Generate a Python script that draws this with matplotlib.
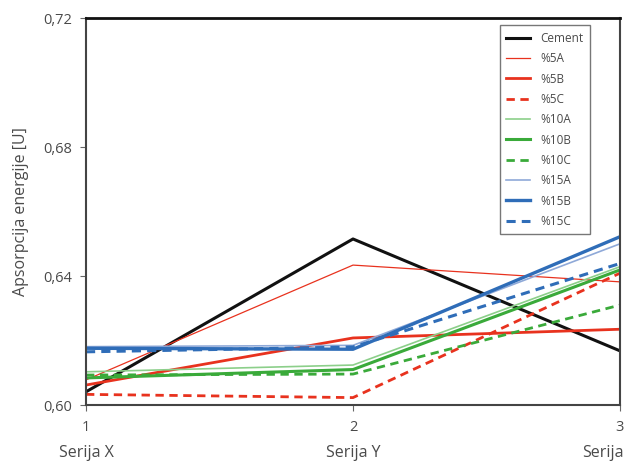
import matplotlib
matplotlib.use("Agg")
import matplotlib.pyplot as plt

plt.rcParams['font.family'] = ['Open Sans', 'DejaVu Sans']

x = [1, 2, 3]
series_names = ["Serija X", "Serija Y", "Serija"]
cement = [0.6041, 0.6515, 0.6168]
p5a = [0.6078, 0.6434, 0.6382]
p5b = [0.6062, 0.6208, 0.6235]
p5c = [0.6033, 0.6023, 0.6409]
p10a = [0.6103, 0.6124, 0.6429]
p10b = [0.6084, 0.6110, 0.6419]
p10c = [0.6093, 0.6096, 0.6310]
p15a = [0.6181, 0.6185, 0.6500]
p15b = [0.6176, 0.6173, 0.6522]
p15c = [0.6165, 0.6180, 0.6439]
labels = ["Cement", "%5A", "%5B", "%5C", "%10A", "%10B", "%10C", "%15A", "%15B", "%15C"]
yticks = [0.60, 0.64, 0.68, 0.72]
ytick_labels = ["0,60", "0,64", "0,68", "0,72"]

fig = plt.figure(figsize=(6.25, 4.65), dpi=100)
ax = fig.add_axes([0.1376, 0.129, 0.8544, 0.832])

red = "#e8321e"
green = "#3aaa3a"
lgreen = "#8ccf8a"
blue = "#2f6db8"
lblue = "#8fa9d8"

styles = [
    (cement, dict(color="#111111", lw=2.2, ls="-")),
    (p5a, dict(color=red, lw=0.9, ls="-")),
    (p5b, dict(color=red, lw=2.0, ls="-")),
    (p5c, dict(color=red, lw=2.0, ls=(0, (3, 2)))),
    (p10a, dict(color=lgreen, lw=1.2, ls="-")),
    (p10b, dict(color=green, lw=2.2, ls="-")),
    (p10c, dict(color=green, lw=2.0, ls=(0, (3, 2)))),
    (p15a, dict(color=lblue, lw=1.2, ls="-")),
    (p15b, dict(color=blue, lw=2.4, ls="-")),
    (p15c, dict(color=blue, lw=2.2, ls=(0, (3, 2)))),
]
handles = []
for (vals, st), lab in zip(styles, labels):
    h, = ax.plot(x, vals, label=lab, **st)
    handles.append(h)

ax.set_xlim(1, 3)
ax.set_ylim(0.60, 0.72)
ax.set_yticks(yticks)
ax.set_yticklabels(ytick_labels)
ax.set_xticks(x)
ax.set_xticklabels(["1", "2", "3"])
ax.tick_params(axis='both', colors="#666666", labelcolor="#4a4a4a", labelsize=10.5, length=4, width=0.8)
ax.tick_params(axis='x', pad=7)
ax.tick_params(axis='y', pad=6)
for s in ax.spines.values():
    s.set_color("#444444")
    s.set_linewidth(1.5)
ax.spines['top'].set_color("#111111")
ax.spines['top'].set_linewidth(2.0)

ax.set_ylabel("Apsorpcija energije [U]", fontsize=11.5, color="#4a4a4a", labelpad=10)

for xi, name in zip(x, series_names):
    ha = 'center'
    xx = xi
    if xi == 3:
        ha = 'right'
        xx = 3.0135
    ax.text(xx, -0.104, name, transform=ax.get_xaxis_transform(), ha=ha, va='top',
            fontsize=11.5, color="#4a4a4a")

leg = ax.legend(handles=handles, loc='upper right', bbox_to_anchor=(0.944, 0.981), fontsize=8.5,
                frameon=True, fancybox=False, edgecolor="#555555", handlelength=2.0,
                labelspacing=0.62, borderpad=0.55, handletextpad=0.9, borderaxespad=0.0)
leg.get_frame().set_linewidth(1.0)
for t in leg.get_texts():
    t.set_color("#4a4a4a")

fig.savefig("out.png", dpi=100)
